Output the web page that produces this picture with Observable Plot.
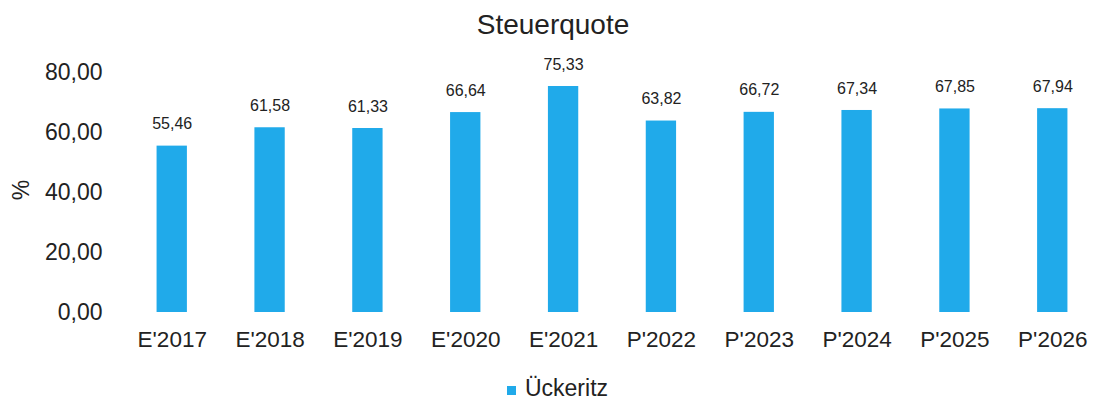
<!DOCTYPE html>
<html>
<head>
<meta charset="utf-8">
<script src="https://cdn.jsdelivr.net/npm/d3@7"></script>
<script src="https://cdn.jsdelivr.net/npm/@observablehq/plot@0.6"></script>
<style>
  html, body { margin: 0; padding: 0; background: #fff; }
  body { width: 1095px; height: 402px; position: relative; overflow: hidden; font-family: "Liberation Sans", Arial, sans-serif; color: #222; }
  #title { position: absolute; left: 0; top: 0; width: 1095px; height: 50px; text-align: center; font-size: 28px; line-height: 50px; padding-left: 11px; box-sizing: border-box; }
  #chart { position: absolute; left: 0; top: 50px; }
  #ylabel { position: absolute; z-index: 5; left: 21px; top: 190px; transform: translate(-50%, -50%) rotate(-90deg); font-size: 23px; }
  #legend { position: absolute; left: 0; top: 374px; width: 1095px; text-align: center; font-size: 23px; line-height: 28px; padding-left: 20px; box-sizing: border-box; }
  #legend .sw { display: inline-block; width: 9px; height: 9px; margin-right: 9px; vertical-align: middle; position: relative; top: 1px; }
</style>
</head>
<body>
<div id="title"></div>
<div id="chart"></div>
<div id="ylabel"></div>
<div id="legend"></div>
<script>
const title = "Steuerquote";
const yLabel = "%";
const seriesName = "Ückeritz";
const categories = ["E'2017", "E'2018", "E'2019", "E'2020", "E'2021", "P'2022", "P'2023", "P'2024", "P'2025", "P'2026"];
const values = [55.46, 61.58, 61.33, 66.64, 75.33, 63.82, 66.72, 67.34, 67.85, 67.94];
const yTicks = [0, 20, 40, 60, 80];
const barColor = "#20aaea";

const fmt = v => v.toFixed(2).replace(".", ",");
const data = categories.map((c, i) => ({category: c, value: values[i]}));

document.getElementById("title").textContent = title;
document.getElementById("ylabel").textContent = yLabel;
const legend = document.getElementById("legend");
const sw = document.createElement("span");
sw.className = "sw";
sw.style.background = barColor;
legend.appendChild(sw);
legend.appendChild(document.createTextNode(seriesName));

const plot = Plot.plot({
  width: 1095,
  height: 310,
  marginLeft: 137,
  marginRight: 8,
  marginTop: 22,
  marginBottom: 48,
  style: {fontFamily: "'Liberation Sans', Arial, sans-serif", color: "#222", background: "transparent"},
  x: {domain: categories, paddingInner: 0.69, paddingOuter: 0.2, round: false},
  y: {domain: [0, 80]},
  marks: [
    Plot.barY(data, {x: "category", y: "value", fill: barColor}),
    Plot.text(data, {x: "category", y: "value", text: d => fmt(d.value), dy: -22, fontSize: 16, fill: "#222"}),
    Plot.axisX({tickSize: 0, tickPadding: 19, fontSize: 22.5, label: null}),
    Plot.axisY({ticks: yTicks, tickFormat: fmt, tickSize: 0, tickPadding: 35, fontSize: 23, label: null})
  ]
});
document.getElementById("chart").appendChild(plot);
</script>
</body>
</html>
